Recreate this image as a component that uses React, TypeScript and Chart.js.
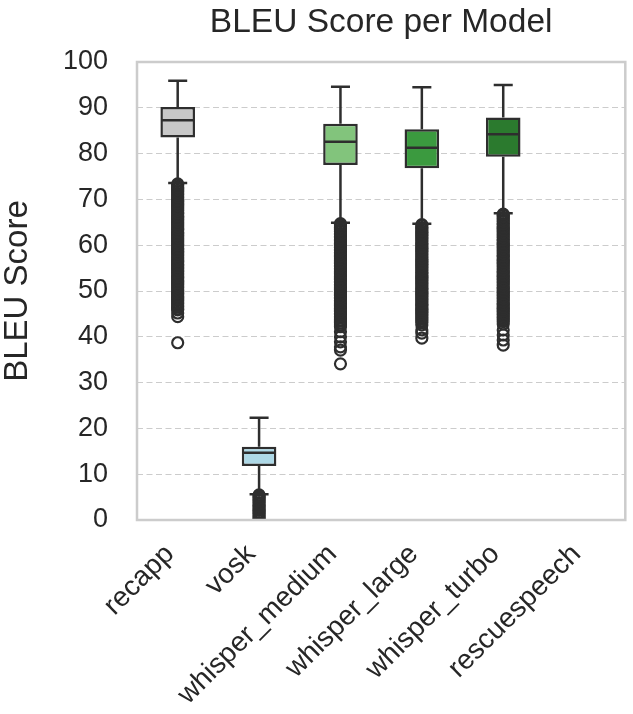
import React, { useEffect, useRef } from "react";
import { Chart, registerables } from "chart.js";
Chart.register(...registerables);

const categories = ["recapp", "vosk", "whisper_medium", "whisper_large", "whisper_turbo", "rescuespeech"];
const q1 = [83.5, 11.8, 77.5, 76.8, 79.3, 0];
const medians = [87.3, 14.7, 82.6, 81.3, 84.2, 0];
const q3 = [90.2, 16.0, 86.5, 85.3, 87.9, 0];
const whiskerLow = [73.6, 5.6, 64.9, 64.7, 67.0, 0];
const whiskerHigh = [95.9, 22.3, 94.6, 94.5, 95.0, 0];
const boxColors = ["#c8c8c8", "#add8e6", "#82c47c", "#3b9a3f", "#2b7a2e", "#e6e6e6"];

const outliersRecapp = [73.4, 73.1, 72.7, 72.4, 72.0, 71.7, 71.3, 71.0, 70.6, 70.3, 69.9, 69.6, 69.2, 68.9, 68.5, 68.2, 67.8, 67.5, 67.1, 66.8, 66.4, 66.1, 65.7, 65.4, 65.0, 64.7, 64.3, 64.0, 63.6, 63.3, 62.9, 62.6, 62.2, 61.9, 61.5, 61.2, 60.8, 60.5, 60.1, 59.8, 59.4, 59.1, 58.7, 58.4, 58.0, 57.7, 57.3, 57.0, 56.6, 56.3, 55.9, 55.6, 55.2, 54.9, 54.5, 54.2, 53.8, 53.5, 53.1, 52.8, 52.4, 52.1, 51.7, 51.4, 51.0, 50.7, 50.3, 50.0, 49.6, 49.3, 48.9, 48.6, 48.2, 47.9, 47.5, 47.2, 46.8, 46.5, 46.1, 45.9, 45.2, 44.4, 38.7];
const outliersVosk = [5.5, 5.2, 4.9, 4.5, 4.2, 3.8, 3.5, 3.1, 2.8, 2.4, 2.1, 1.7, 1.4, 1.0, 0.7, 0.3, 0.0];
const outliersMedium = [64.7, 64.4, 64.0, 63.7, 63.3, 63.0, 62.6, 62.3, 61.9, 61.6, 61.2, 60.9, 60.5, 60.2, 59.8, 59.5, 59.1, 58.8, 58.4, 58.1, 57.7, 57.4, 57.0, 56.7, 56.3, 56.0, 55.6, 55.3, 54.9, 54.6, 54.2, 53.9, 53.5, 53.2, 52.8, 52.5, 52.1, 51.8, 51.4, 51.1, 50.7, 50.4, 50.0, 49.7, 49.3, 49.0, 48.6, 48.3, 47.9, 47.6, 47.2, 46.9, 46.5, 46.2, 45.8, 45.5, 45.1, 44.8, 44.4, 44.1, 43.7, 43.4, 43.0, 42.6, 42.2, 41.1, 40.0, 38.9, 37.8, 37.1, 34.1];
const outliersLarge = [64.5, 64.2, 63.8, 63.5, 63.1, 62.8, 62.4, 62.1, 61.7, 61.4, 61.0, 60.7, 60.3, 60.0, 59.6, 59.3, 58.9, 58.6, 58.2, 57.9, 57.5, 57.2, 56.8, 56.5, 56.1, 55.8, 55.4, 55.1, 54.7, 54.4, 54.0, 53.7, 53.3, 53.0, 52.6, 52.3, 51.9, 51.6, 51.2, 50.9, 50.5, 50.2, 49.8, 49.5, 49.1, 48.8, 48.4, 48.1, 47.7, 47.4, 47.0, 46.7, 46.3, 46.0, 45.6, 45.3, 44.9, 44.6, 44.2, 43.9, 43.5, 43.1, 42.6, 41.5, 40.8, 39.7];
const outliersTurbo = [66.8, 66.5, 66.1, 65.8, 65.4, 65.1, 64.7, 64.4, 64.0, 63.7, 63.3, 63.0, 62.6, 62.3, 61.9, 61.6, 61.2, 60.9, 60.5, 60.2, 59.8, 59.5, 59.1, 58.8, 58.4, 58.1, 57.7, 57.4, 57.0, 56.7, 56.3, 56.0, 55.6, 55.3, 54.9, 54.6, 54.2, 53.9, 53.5, 53.2, 52.8, 52.5, 52.1, 51.8, 51.4, 51.1, 50.7, 50.4, 50.0, 49.7, 49.3, 49.0, 48.6, 48.3, 47.9, 47.6, 47.2, 46.9, 46.5, 46.2, 45.8, 45.5, 45.1, 44.8, 44.4, 44.1, 43.7, 43.3, 42.8, 41.5, 40.4, 39.3, 38.2];
const outliersRescue: number[] = [];
const outlierLists = [outliersRecapp, outliersVosk, outliersMedium, outliersLarge, outliersTurbo, outliersRescue];

const yTicks = [0, 10, 20, 30, 40, 50, 60, 70, 80, 90, 100];

const EDGE = "#2e2e2e";
const TEXT = "#262626";
const FONT = "'Liberation Sans', Arial, sans-serif";

const boxPlugin = {
  id: "boxPlugin",
  afterDatasetsDraw(chart: any) {
    const { ctx, scales } = chart;
    const x = scales.x;
    const y = scales.y;
    const meta = chart.getDatasetMeta(0);
    ctx.save();
    ctx.strokeStyle = EDGE;
    ctx.lineWidth = 2.5;
    ctx.lineCap = "butt";
    categories.forEach((c, i) => {
      if (i === 5) return;
      const cx = x.getPixelForValue(i);
      const bar = meta.data[i];
      const half = bar.width / 2;
      const capHalf = half * 0.55;
      const yq1 = y.getPixelForValue(q1[i]);
      const yq3 = y.getPixelForValue(q3[i]);
      const ylo = y.getPixelForValue(whiskerLow[i]);
      const yhi = y.getPixelForValue(whiskerHigh[i]);
      const ym = y.getPixelForValue(medians[i]);
      ctx.beginPath();
      ctx.moveTo(cx, yq3);
      ctx.lineTo(cx, yhi);
      ctx.moveTo(cx - capHalf, yhi);
      ctx.lineTo(cx + capHalf, yhi);
      ctx.moveTo(cx, yq1);
      ctx.lineTo(cx, ylo);
      ctx.moveTo(cx - capHalf, ylo);
      ctx.lineTo(cx + capHalf, ylo);
      ctx.moveTo(cx - half + 1, ym);
      ctx.lineTo(cx + half - 1, ym);
      ctx.stroke();
    });
    ctx.restore();
  },
  afterDraw(chart: any) {
    const { ctx, chartArea } = chart;
    ctx.save();
    ctx.strokeStyle = "#cccccc";
    ctx.lineWidth = 2.5;
    ctx.strokeRect(chartArea.left, chartArea.top, chartArea.right - chartArea.left, chartArea.bottom - chartArea.top);
    ctx.fillStyle = TEXT;
    ctx.font = `33.5px ${FONT}`;
    ctx.textAlign = "center";
    ctx.textBaseline = "alphabetic";
    ctx.fillText("BLEU Score per Model", (chartArea.left + chartArea.right) / 2, 32);
    ctx.restore();
  },
};

export default function App() {
  const ref = useRef<HTMLCanvasElement | null>(null);
  useEffect(() => {
    document.body.style.margin = "0";
    if (!ref.current) return;
    const outlierPoints: { x: string; y: number }[] = [];
    outlierLists.forEach((list, i) => list.forEach((v) => outlierPoints.push({ x: categories[i], y: v })));
    const chart = new Chart(ref.current, {
      type: "bar",
      data: {
        labels: categories,
        datasets: [
          {
            type: "bar",
            data: categories.map((_, i) => [q1[i], q3[i]]),
            backgroundColor: boxColors,
            borderColor: EDGE,
            borderWidth: 2.5,
            borderSkipped: false,
            barPercentage: 0.425,
            categoryPercentage: 1,
            order: 1,
          } as any,
          {
            type: "line",
            data: outlierPoints,
            showLine: false,
            pointRadius: 5.5,
            pointBorderWidth: 2.2,
            pointBorderColor: EDGE,
            pointBackgroundColor: "rgba(0,0,0,0)",
            pointHoverRadius: 5.5,
            clip: 0,
            order: 2,
          } as any,
        ],
      },
      options: {
        animation: false,
        responsive: true,
        maintainAspectRatio: false,
        events: [],
        layout: { padding: { top: 62, right: 7, left: 0, bottom: 0 } },
        plugins: { legend: { display: false }, tooltip: { enabled: false }, title: { display: false } },
        scales: {
          x: {
            type: "category",
            grid: { display: false, drawTicks: false },
            border: { display: false },
            ticks: {
              font: { size: 28, family: FONT },
              color: TEXT,
              minRotation: 45,
              maxRotation: 45,
              padding: 18,
              labelOffset: -8,
              autoSkip: false,
            },
            afterFit: (s: any) => {
              s.height = 194;
            },
          },
          y: {
            min: 0,
            max: 100,
            afterBuildTicks: (s: any) => {
              s.ticks = yTicks.map((v) => ({ value: v }));
            },
            grid: {
              drawTicks: false,
              lineWidth: 1,
              color: (c: any) => (c.tick && (c.tick.value === 0 || c.tick.value === 100) ? "rgba(0,0,0,0)" : "#cccccc"),
            },
            border: { display: false, dash: [6, 3.5] },
            ticks: { font: { size: 27, family: FONT }, color: TEXT, padding: 29 },
            title: {
              display: true,
              text: "BLEU Score",
              font: { size: 33, family: FONT, lineHeight: 1 },
              color: TEXT,
              padding: { top: 1, bottom: 0 },
            },
            afterFit: (s: any) => {
              s.width = 137;
            },
          },
        },
      },
      plugins: [boxPlugin],
    });
    return () => chart.destroy();
  }, []);
  return (
    <div style={{ width: 633, height: 714, position: "relative" }}>
      <canvas ref={ref} />
    </div>
  );
}
